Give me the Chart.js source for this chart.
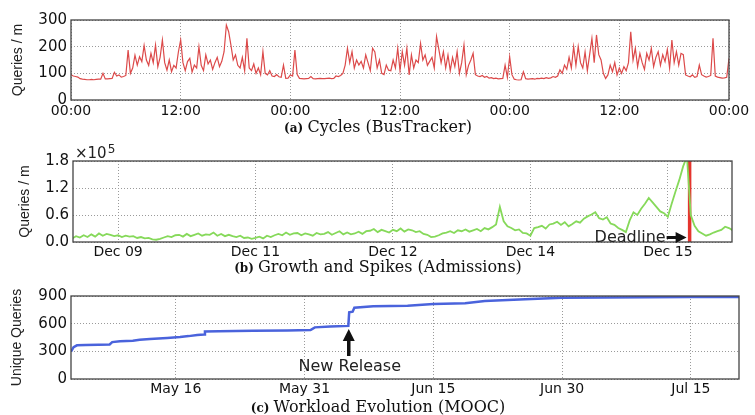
<!DOCTYPE html>
<html>
<head>
<meta charset="utf-8">
<script src="https://cdn.jsdelivr.net/npm/chart.js@4.4.1/dist/chart.umd.min.js"></script>
<style>
    html, body { margin: 0; padding: 0; background: #fff; }
    #wrap { position: relative; width: 755px; height: 415px; }
    canvas { position: absolute; left: 0; }
</style>
</head>
<body>
<div id="wrap">
    <canvas id="busChart" width="755" height="140" style="top:0px"></canvas>
    <canvas id="admChart" width="755" height="140" style="top:140px"></canvas>
    <canvas id="moocChart" width="755" height="135" style="top:280px"></canvas>
</div>
<script>
// (a) BusTracker, one value every 15 minutes over three days
const busStepHours = 0.25;
const busQueries = [
    95, 90, 88, 86,   80, 78, 77, 76,   76, 77, 76, 77,
    78, 78, 100, 79,  79, 80, 81, 104,  90, 94, 86, 88,
    92, 187, 100, 120, 168, 131, 162, 144, 204, 150, 130, 175,
    140, 206, 125, 160, 225, 140, 112, 150, 106, 130, 120, 180,
    225, 140, 110, 144, 156, 105, 131, 120, 200, 130, 110, 169,
    135, 150, 115, 140, 160, 125, 145, 181, 281, 256, 206, 150,
    169, 130, 120, 160, 110, 231, 120, 110, 135, 100, 120, 95,
    181, 100, 94, 110, 90, 88, 95, 87,  85, 131, 81, 82,
    94, 90, 187, 95,  81, 80, 79, 80,   81, 88, 80, 79,
    80, 81, 80, 80,   81, 82, 80, 81,   90, 88, 92, 100,
    131, 194, 140, 181, 120, 150, 131, 145, 120, 169, 140, 110,
    194, 180, 120, 150, 100, 95, 131, 112, 110, 150, 120, 194,
    110, 181, 130, 194, 94, 169, 120, 150, 140, 212, 150, 169,
    130, 145, 160, 120, 238, 190, 140, 181, 120, 169, 110, 160,
    125, 181, 100, 140, 206, 95, 130, 150, 175, 95, 90, 88,
    92, 85, 88, 82,   84, 80, 82, 79,   80, 81, 131, 85,
    162, 95, 78, 76,  75, 76, 106, 80,  78, 79, 80, 78,
    81, 80, 82, 80,   84, 81, 83, 88,   85, 90, 113, 100,
    131, 115, 160, 120, 200, 130, 200, 140, 120, 180, 110, 170,
    231, 140, 244, 170, 150, 100, 81, 94, 131, 106, 140, 94,
    120, 100, 125, 110, 140, 256, 150, 194, 125, 175, 140, 115,
    175, 150, 194, 125, 160, 181, 130, 170, 144, 190, 120, 225,
    140, 181, 131, 175, 170, 94, 90, 87, 94, 85, 88, 131,
    95, 90, 86, 88,   92, 231, 90, 86,  84, 82, 83, 85,
    156
];
const busTickHours = [0, 12, 24, 36, 48, 60, 72];
const busTickLabels = ['00:00', '12:00', '00:00', '12:00', '00:00', '12:00', '00:00'];

// (b) Admissions, thousands of queries per minute, hourly from hour 24 (Dec 08 00:00 = 0)
const admStartHour = 24;
const admQueriesK = [
    8, 13, 10, 15, 11,
    17, 12, 19, 14, 18, 16, 13,
    15, 11, 14, 12, 13, 9,
    11, 8, 9, 6, 5, 7,
    10, 13, 11, 15, 16, 12,
    18, 13, 16, 19, 14, 17,
    16, 21, 14, 18, 13, 16,
    13, 11, 14, 9, 10, 7,
    9, 12, 8, 14, 11, 15,
    18, 15, 21, 16, 19, 20,
    15, 19, 17, 14, 20, 17,
    18, 22, 16, 20, 24, 17,
    21, 17, 19, 23, 18, 24,
    25, 29, 22, 27, 24, 21,
    27, 24, 30, 23, 28, 26,
    22, 24, 18, 16, 11, 12,
    15, 19, 21, 24, 20, 26,
    24, 28, 23, 26, 29, 24,
    31, 28, 33, 39, 78, 46,
    35, 31, 26, 28, 20, 19,
    14, 31, 33, 36, 30, 39,
    41, 45, 38, 44, 35, 40,
    46, 43, 52, 57, 61, 66,
    53, 50, 55, 41, 38, 31,
    27, 22, 48, 66, 60, 74,
    85, 98, 88, 78, 68, 64,
    56, 85, 112, 138, 168, 190,
    60, 36, 24, 19, 14, 17,
    21, 24, 27, 34, 31, 26
];
const admTickHours = [36, 72, 108, 144, 180];
const admTickLabels = ['Dec 09', 'Dec 11', 'Dec 12', 'Dec 14', 'Dec 15'];
const admYTicks = [0, 60, 120, 180];
const admYLabels = ['0.0', '0.6', '1.2', '1.8'];
const deadlineHour = 185.7;

// (c) MOOC, day counted from May 01
const moocDays = [2.8, 3.1, 3.5, 4.5, 6, 7.3, 7.6, 8.5, 10, 10.8, 12, 14, 15.5, 16.5, 17.5, 18.3, 18.4,
    20, 24, 28, 30.7, 31.2, 33, 35.1, 35.2, 35.6, 35.8, 38, 42, 45, 48.7, 51, 55.7, 60, 65, 70, 75, 80.6];
const moocUnique = [296, 345, 365, 370, 372, 375, 400, 410, 415, 425, 435, 445, 455, 465, 478, 482, 515,
    518, 522, 526, 530, 560, 570, 576, 723, 730, 773, 788, 795, 812, 822, 846, 864, 880, 884, 886, 888, 889];
const moocTickDays = [15, 30, 45, 60, 75];
const moocTickLabels = ['May 16', 'May 31', 'Jun 15', 'Jun 30', 'Jul 15'];
const releaseDay = 35.15;

Chart.defaults.font.family = '"DejaVu Sans"';
Chart.defaults.color = '#111';

const gridStyle = { color: '#9a9a9a', lineWidth: 1, drawTicks: false };
const noBorder = { display: false, dash: [1, 2] };

function fixedTicks(values) {
    return axis => { axis.ticks = values.map(v => ({ value: v })); };
}

const frame = {
    id: 'frame',
    afterDraw(chart) {
        const { ctx, chartArea: a } = chart;
        ctx.save();
        ctx.strokeStyle = '#444';
        ctx.lineWidth = 1.3;
        ctx.strokeRect(a.left, a.top, a.right - a.left, a.bottom - a.top);
        ctx.restore();
    }
};

function caption(tag, text) {
    return {
        id: 'caption',
        afterDraw(chart) {
            const ctx = chart.ctx;
            ctx.save();
            ctx.fillStyle = '#111';
            ctx.textBaseline = 'alphabetic';
            ctx.font = 'bold 12px "DejaVu Serif"';
            const w1 = ctx.measureText(tag + ' ').width;
            ctx.font = '16px "DejaVu Serif"';
            const w2 = ctx.measureText(text).width;
            const x = 378 - (w1 + w2) / 2;
            ctx.font = 'bold 12px "DejaVu Serif"';
            ctx.fillText(tag, x, 132);
            ctx.font = '16px "DejaVu Serif"';
            ctx.fillText(text, x + w1, 132);
            ctx.restore();
        }
    };
}

function arrowHead(ctx, x1, y1, x2, y2, size) {
    const ang = Math.atan2(y2 - y1, x2 - x1);
    ctx.beginPath();
    ctx.moveTo(x1, y1);
    ctx.lineTo(x2 - Math.cos(ang) * size * 0.8, y2 - Math.sin(ang) * size * 0.8);
    ctx.stroke();
    ctx.beginPath();
    ctx.moveTo(x2, y2);
    ctx.lineTo(x2 - size * Math.cos(ang) + size * 0.5 * Math.sin(ang), y2 - size * Math.sin(ang) - size * 0.5 * Math.cos(ang));
    ctx.lineTo(x2 - size * Math.cos(ang) - size * 0.5 * Math.sin(ang), y2 - size * Math.sin(ang) + size * 0.5 * Math.cos(ang));
    ctx.closePath();
    ctx.fill();
}

function yTitle(text, size, pad) {
    return { display: true, text: text, font: { family: '"Liberation Sans"', size: size }, padding: { top: pad, bottom: 0 }, color: '#222' };
}

// ---- (a) ----
new Chart(document.getElementById('busChart'), {
    type: 'line',
    data: {
        datasets: [{
            data: busQueries.map((v, i) => ({ x: i * busStepHours, y: v })),
            borderColor: '#dc4a4a',
            borderWidth: 1.2,
            pointRadius: 0,
            tension: 0
        }]
    },
    options: {
        responsive: false,
        animation: false,
        devicePixelRatio: 1,
        layout: { padding: { left: 0, right: 26, top: 20, bottom: 0 } },
        plugins: { legend: { display: false }, tooltip: { enabled: false } },
        scales: {
            x: {
                type: 'linear', min: 0, max: 72,
                afterBuildTicks: fixedTicks(busTickHours),
                afterFit: s => { s.height = 40; },
                grid: gridStyle, border: noBorder,
                ticks: { callback: (v, i) => busTickLabels[i], autoSkip: false, maxRotation: 0, padding: 3, font: { size: 14 } }
            },
            y: {
                min: 0, max: 300,
                afterFit: s => { s.width = 71; },
                grid: gridStyle, border: noBorder,
                ticks: { stepSize: 100, padding: 4, font: { size: 15 } },
                title: yTitle('Queries / m', 14, 10)
            }
        }
    },
    plugins: [frame, caption('(a)', 'Cycles (BusTracker)')]
});

// ---- (b) ----
const admNotes = {
    id: 'admNotes',
    afterDraw(chart) {
        const { ctx, scales: { x, y } } = chart;
        ctx.save();
        ctx.fillStyle = '#222';
        ctx.strokeStyle = '#111';
        ctx.textBaseline = 'alphabetic';
        ctx.font = '15px "DejaVu Sans"';
        ctx.fillText('\u00d710', x.left + 2, y.top - 3);
        const w = ctx.measureText('\u00d710').width;
        ctx.font = '12px "DejaVu Sans"';
        ctx.fillText('5', x.left + 3 + w, y.top - 8);

        const dx = x.getPixelForValue(deadlineHour);
        const ay = y.bottom - 4.5;
        ctx.fillStyle = '#111';
        ctx.lineWidth = 3;
        arrowHead(ctx, dx - 23, ay, dx - 3, ay, 11);
        ctx.font = '16px "DejaVu Sans"';
        ctx.textAlign = 'right';
        ctx.fillStyle = '#222';
        ctx.fillText('Deadline', dx - 24, y.bottom - 0.5);
        ctx.restore();
    }
};

new Chart(document.getElementById('admChart'), {
    type: 'line',
    data: {
        datasets: [{
            data: admQueriesK.map((v, i) => ({ x: admStartHour + i, y: v })),
            borderColor: '#86d95a',
            borderWidth: 1.8,
            pointRadius: 0,
            tension: 0
        }, {
            data: [{ x: deadlineHour, y: 0 }, { x: deadlineHour, y: 180 }],
            borderColor: '#e5352e',
            borderWidth: 3.5,
            pointRadius: 0
        }]
    },
    options: {
        responsive: false,
        animation: false,
        devicePixelRatio: 1,
        layout: { padding: { left: 0, right: 23, top: 21, bottom: 0 } },
        plugins: { legend: { display: false }, tooltip: { enabled: false } },
        scales: {
            x: {
                type: 'linear', min: 24.2, max: 196.8,
                afterBuildTicks: fixedTicks(admTickHours),
                afterFit: s => { s.height = 38; },
                grid: gridStyle, border: noBorder,
                ticks: { callback: (v, i) => admTickLabels[i], autoSkip: false, maxRotation: 0, padding: 2, font: { size: 14 } }
            },
            y: {
                min: 0, max: 180,
                afterBuildTicks: fixedTicks(admYTicks),
                afterFit: s => { s.width = 73; },
                grid: gridStyle, border: noBorder,
                ticks: { callback: (v, i) => admYLabels[i], padding: 4, font: { size: 15 } },
                title: yTitle('Queries / m', 14, 17)
            }
        }
    },
    plugins: [frame, admNotes, caption('(b)', 'Growth and Spikes (Admissions)')]
});

// ---- (c) ----
const moocNotes = {
    id: 'moocNotes',
    afterDraw(chart) {
        const { ctx, scales: { x, y } } = chart;
        const rx = x.getPixelForValue(releaseDay);
        ctx.save();
        ctx.fillStyle = '#111';
        ctx.strokeStyle = '#111';
        ctx.lineWidth = 3.5;
        arrowHead(ctx, rx, y.top + 60, rx, y.top + 33, 12);
        ctx.font = '16px "DejaVu Sans"';
        ctx.textAlign = 'center';
        ctx.fillStyle = '#222';
        ctx.textBaseline = 'alphabetic';
        ctx.fillText('New Release', rx + 1, y.top + 75);
        ctx.restore();
    }
};

new Chart(document.getElementById('moocChart'), {
    type: 'line',
    data: {
        datasets: [{
            data: moocDays.map((d, i) => ({ x: d, y: moocUnique[i] })),
            borderColor: '#4a63dc',
            borderWidth: 2.5,
            pointRadius: 0,
            tension: 0
        }]
    },
    options: {
        responsive: false,
        animation: false,
        devicePixelRatio: 1,
        layout: { padding: { left: 0, right: 16, top: 16, bottom: 0 } },
        plugins: { legend: { display: false }, tooltip: { enabled: false } },
        scales: {
            x: {
                type: 'linear', min: 2.8, max: 80.6,
                afterBuildTicks: fixedTicks(moocTickDays),
                afterFit: s => { s.height = 36; },
                grid: gridStyle, border: noBorder,
                ticks: { callback: (v, i) => moocTickLabels[i], autoSkip: false, maxRotation: 0, padding: 2, font: { size: 14 } }
            },
            y: {
                min: 0, max: 900,
                afterFit: s => { s.width = 71; },
                grid: gridStyle, border: noBorder,
                ticks: { stepSize: 300, padding: 4, font: { size: 15 } },
                title: yTitle('Unique Queries', 14, 9)
            }
        }
    },
    plugins: [frame, moocNotes, caption('(c)', 'Workload Evolution (MOOC)')]
});
</script>
</body>
</html>
